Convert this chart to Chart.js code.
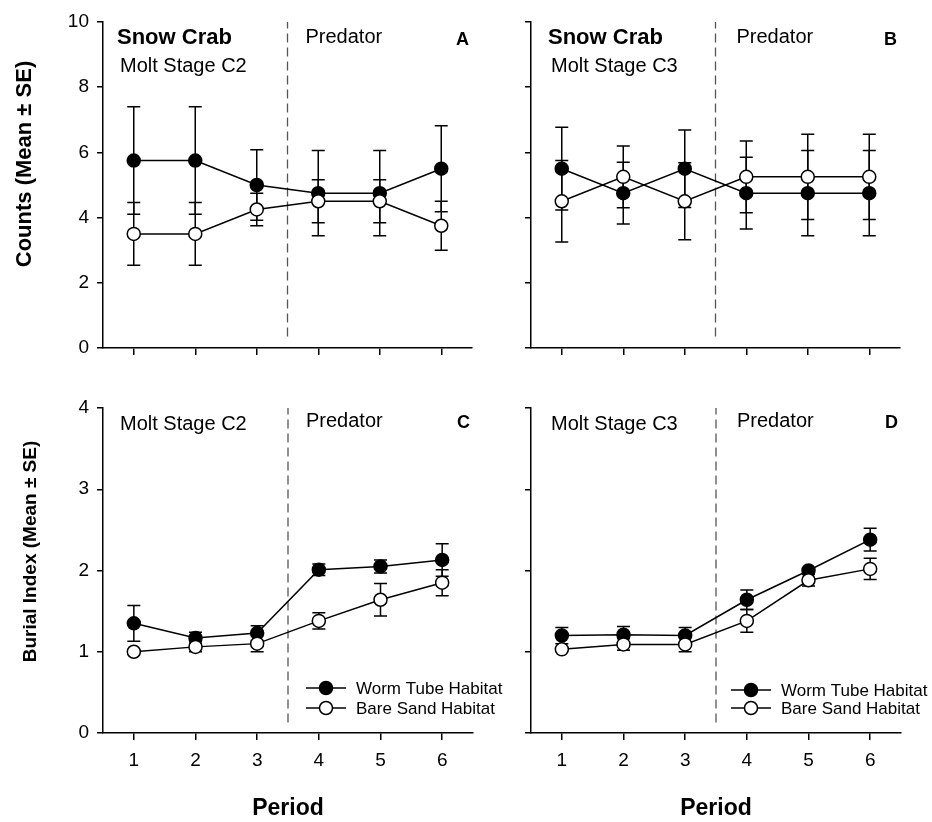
<!DOCTYPE html>
<html>
<head>
<meta charset="utf-8">
<script src="https://cdn.jsdelivr.net/npm/chart.js@4.4.1/dist/chart.umd.min.js"></script>
<style>
  body { margin: 0; background: #fff; }
  #wrap { position: relative; width: 932px; height: 822px; background: #fff; overflow: hidden; }
  canvas { position: absolute; }
</style>
</head>
<body>
<div id="wrap">
  <canvas id="panelA" width="480" height="390" style="left:0;top:0"></canvas>
  <canvas id="panelB" width="480" height="390" style="left:428px;top:0"></canvas>
  <canvas id="panelC" width="540" height="442" style="left:0;top:380px"></canvas>
  <canvas id="panelD" width="504" height="442" style="left:428px;top:380px"></canvas>
</div>
<script>
// ---- data ----
const periods = [1, 2, 3, 4, 5, 6];
const seriesNames = ["Worm Tube Habitat", "Bare Sand Habitat"];
const predatorStart = 3.5;

// A: counts, molt stage C2
const countsC2Worm   = [5.75, 5.75, 5.0, 4.75, 4.75, 5.5];
const countsC2WormSE = [1.65, 1.65, 1.08, 1.31, 1.31, 1.32];
const countsC2Sand   = [3.5, 3.5, 4.25, 4.5, 4.5, 3.75];
const countsC2SandSE = [0.96, 0.96, 0.5, 0.66, 0.66, 0.75];

// B: counts, molt stage C3
const countsC3Worm   = [5.5, 4.75, 5.5, 4.75, 4.75, 4.75];
const countsC3WormSE = [1.27, 0.95, 1.19, 1.1, 1.31, 1.31];
const countsC3Sand   = [4.5, 5.25, 4.5, 5.25, 5.25, 5.25];
const countsC3SandSE = [1.25, 0.95, 1.18, 1.1, 1.31, 1.31];

// C: burial index, molt stage C2
const burialC2Worm   = [1.35, 1.17, 1.23, 2.01, 2.05, 2.13];
const burialC2WormSE = [0.22, 0.07, 0.09, 0.07, 0.08, 0.2];
const burialC2Sand   = [1.0, 1.06, 1.1, 1.38, 1.64, 1.85];
const burialC2SandSE = [0.01, 0.06, 0.1, 0.1, 0.2, 0.16];

// D: burial index, molt stage C3
const burialC3Worm   = [1.2, 1.21, 1.2, 1.64, 2.0, 2.38];
const burialC3WormSE = [0.1, 0.1, 0.1, 0.12, 0.03, 0.14];
const burialC3Sand   = [1.03, 1.09, 1.09, 1.38, 1.88, 2.02];
const burialC3SandSE = [0.02, 0.07, 0.09, 0.14, 0.07, 0.13];

const countTicks = [0, 2, 4, 6, 8, 10];
const burialTicks = [0, 1, 2, 3, 4];

Chart.defaults.font.family = 'Arial, "Liberation Sans", sans-serif';
Chart.defaults.color = "#000";
Chart.defaults.animation = false;

const FONT = 'Arial, "Liberation Sans", sans-serif';

// error bars, predator divider, panel text, y title and legend
const panelDecor = {
  id: "panelDecor",
  beforeDatasetsDraw(chart, args, o) {
    const { ctx, chartArea, scales: { x, y } } = chart;
    ctx.save();
    ctx.strokeStyle = "#555";
    ctx.lineWidth = 1.3;
    ctx.setLineDash([9, 5]);
    const xd = x.getPixelForValue(predatorStart);
    ctx.beginPath();
    ctx.moveTo(xd, y.getPixelForValue(o.dashBottom));
    ctx.lineTo(xd, chartArea.top);
    ctx.stroke();
    ctx.setLineDash([]);

    ctx.strokeStyle = "#000";
    ctx.lineWidth = 1.5;
    chart.data.datasets.forEach((ds, i) => {
      const meta = chart.getDatasetMeta(i);
      meta.data.forEach((pt, j) => {
        const v = ds.data[j].y, e = ds.se[j];
        const yt = y.getPixelForValue(v + e), yb = y.getPixelForValue(v - e);
        ctx.beginPath();
        ctx.moveTo(pt.x, yt); ctx.lineTo(pt.x, yb);
        ctx.moveTo(pt.x - 6.5, yt); ctx.lineTo(pt.x + 6.5, yt);
        ctx.moveTo(pt.x - 6.5, yb); ctx.lineTo(pt.x + 6.5, yb);
        ctx.stroke();
      });
    });
    ctx.restore();
  },
  afterDraw(chart, args, o) {
    const { ctx, chartArea, scales: { x } } = chart;
    const xd = x.getPixelForValue(predatorStart);
    ctx.save();
    ctx.fillStyle = "#000";
    ctx.textBaseline = "alphabetic";
    o.texts.forEach(t => {
      ctx.font = t.font;
      let px;
      if (t.from === "left") { ctx.textAlign = "left"; px = chartArea.left + t.dx; }
      else if (t.from === "div") { ctx.textAlign = "left"; px = xd + t.dx; }
      else { ctx.textAlign = "right"; px = chartArea.right + t.dx; }
      ctx.fillText(t.text, px, chartArea.top + t.dy);
    });

    if (o.yTitle) {
      const cy = (chartArea.top + chartArea.bottom) / 2 + o.yTitle.dy;
      ctx.save();
      ctx.translate(o.yTitle.cx, cy);
      ctx.rotate(-Math.PI / 2);
      ctx.font = "bold " + o.yTitle.size + "px " + FONT;
      ctx.textAlign = "center";
      ctx.textBaseline = "middle";
      ctx.fillText(o.yTitle.text, 0, 0);
      ctx.restore();
    }

    if (o.legend) {
      const lx = xd + o.legend.dx;
      chart.data.datasets
        .slice()
        .sort((a, b) => a.legendRank - b.legendRank)
        .forEach((ds, k) => {
          const ly = chartArea.bottom + o.legend.rows[k];
          ctx.strokeStyle = "#000";
          ctx.lineWidth = 1.5;
          ctx.beginPath();
          ctx.moveTo(lx, ly); ctx.lineTo(lx + 40, ly);
          ctx.stroke();
          ctx.beginPath();
          ctx.arc(lx + 20, ly, 6.5, 0, Math.PI * 2);
          ctx.fillStyle = ds.pointBackgroundColor;
          ctx.fill();
          ctx.stroke();
          ctx.fillStyle = "#000";
          ctx.font = "17px " + FONT;
          ctx.textAlign = "left";
          ctx.textBaseline = "middle";
          ctx.fillText(ds.label, lx + 50, ly + 1);
          ctx.textBaseline = "alphabetic";
        });
    }
    ctx.restore();
  }
};

function series(label, values, se, filled, rank) {
  return {
    label: label,
    data: periods.map((p, i) => ({ x: p, y: values[i] })),
    se: se,
    legendRank: rank,
    order: filled ? 1 : 0,
    borderColor: "#000",
    borderWidth: 1.5,
    pointRadius: 6.5,
    pointHoverRadius: 6.5,
    pointBorderWidth: 1.5,
    pointBorderColor: "#000",
    pointBackgroundColor: filled ? "#000" : "#fff",
    tension: 0
  };
}

function makePanel(id, cfg) {
  new Chart(document.getElementById(id), {
    type: "line",
    data: {
      datasets: [
        series(seriesNames[0], cfg.worm, cfg.wormSE, true, 0),
        series(seriesNames[1], cfg.sand, cfg.sandSE, false, 1)
      ]
    },
    options: {
      responsive: false,
      events: [],
      layout: { padding: { left: 0, right: cfg.padRight, top: cfg.padTop, bottom: 0 } },
      plugins: {
        legend: { display: false },
        tooltip: { enabled: false },
        panelDecor: {
          dashBottom: cfg.dashBottom,
          texts: cfg.texts,
          yTitle: cfg.yTitle,
          legend: cfg.legend
        }
      },
      scales: {
        x: {
          type: "linear",
          min: 0.5,
          max: 6.5,
          afterBuildTicks: s => { s.ticks = periods.map(v => ({ value: v })); },
          afterFit: s => { s.height = cfg.xHeight; },
          ticks: {
            autoSkip: false,
            maxRotation: 0,
            padding: 9,
            font: { size: 19 },
            callback: v => (cfg.xLabels ? String(v) : "")
          },
          grid: { display: true, drawOnChartArea: false, drawTicks: true, tickLength: 7, color: "#000", lineWidth: 1.5 },
          border: { display: true, color: "#000", width: 1.5 },
          title: {
            display: cfg.xLabels,
            text: "Period",
            font: { size: 23, weight: "bold" },
            padding: { top: 14, bottom: 0 }
          }
        },
        y: {
          type: "linear",
          min: cfg.yTicks[0],
          max: cfg.yTicks[cfg.yTicks.length - 1],
          afterBuildTicks: s => { s.ticks = cfg.yTicks.map(v => ({ value: v })); },
          afterFit: s => { s.width = 103; },
          ticks: {
            padding: 8,
            font: { size: 19 },
            callback: v => (cfg.yLabels ? String(v) : "")
          },
          grid: { display: true, drawOnChartArea: false, drawTicks: true, tickLength: 6, color: "#000", lineWidth: 1.5 },
          border: { display: true, color: "#000", width: 1.5 },
          title: { display: false }
        }
      }
    },
    plugins: [panelDecor]
  });
}

const bold22 = "bold 22px " + FONT;
const reg20 = "20px " + FONT;
const bold18 = "bold 18px " + FONT;

makePanel("panelA", {
  worm: countsC2Worm, wormSE: countsC2WormSE, sand: countsC2Sand, sandSE: countsC2SandSE,
  yTicks: countTicks, yLabels: true, xLabels: false,
  yTitle: { text: "Counts (Mean \u00B1 SE)", size: 22, cx: 25, dy: -21 },
  padTop: 22, padRight: 7, xHeight: 42, dashBottom: 0.35,
  texts: [
    { text: "Snow Crab", font: bold22, from: "left", dx: 14, dy: 22 },
    { text: "Molt Stage C2", font: reg20, from: "left", dx: 17, dy: 50 },
    { text: "Predator", font: reg20, from: "div", dx: 18, dy: 21 },
    { text: "A", font: bold18, from: "right", dx: -3, dy: 23 }
  ]
});

makePanel("panelB", {
  worm: countsC3Worm, wormSE: countsC3WormSE, sand: countsC3Sand, sandSE: countsC3SandSE,
  yTicks: countTicks, yLabels: false, xLabels: false, yTitle: null,
  padTop: 22, padRight: 7, xHeight: 42, dashBottom: 0.35,
  texts: [
    { text: "Snow Crab", font: bold22, from: "left", dx: 17, dy: 22 },
    { text: "Molt Stage C3", font: reg20, from: "left", dx: 20, dy: 50 },
    { text: "Predator", font: reg20, from: "div", dx: 21, dy: 21 },
    { text: "B", font: bold18, from: "right", dx: -3, dy: 23 }
  ]
});

makePanel("panelC", {
  worm: burialC2Worm, wormSE: burialC2WormSE, sand: burialC2Sand, sandSE: burialC2SandSE,
  yTicks: burialTicks, yLabels: true, xLabels: true,
  yTitle: { text: "Burial Index (Mean \u00B1 SE)", size: 19, cx: 31, dy: -19 },
  padTop: 28, padRight: 67, xHeight: 89, dashBottom: 0.13,
  texts: [
    { text: "Molt Stage C2", font: reg20, from: "left", dx: 17, dy: 22 },
    { text: "Predator", font: reg20, from: "div", dx: 18, dy: 19 },
    { text: "C", font: bold18, from: "right", dx: -3, dy: 20 }
  ],
  legend: { dx: 18, rows: [-45, -25] }
});

makePanel("panelD", {
  worm: burialC3Worm, wormSE: burialC3WormSE, sand: burialC3Sand, sandSE: burialC3SandSE,
  yTicks: burialTicks, yLabels: false, xLabels: true, yTitle: null,
  padTop: 28, padRight: 31, xHeight: 89, dashBottom: 0.13,
  texts: [
    { text: "Molt Stage C3", font: reg20, from: "left", dx: 20, dy: 22 },
    { text: "Predator", font: reg20, from: "div", dx: 21, dy: 19 },
    { text: "D", font: bold18, from: "right", dx: -3, dy: 20 }
  ],
  legend: { dx: 15, rows: [-43, -25] }
});
</script>
</body>
</html>
